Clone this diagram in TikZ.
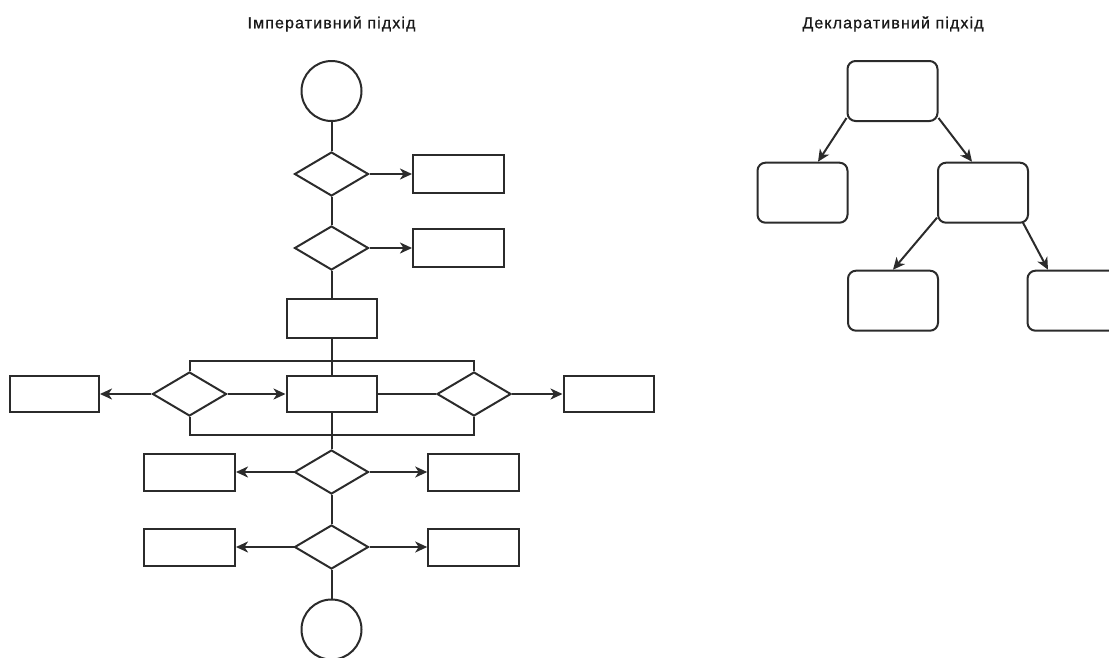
\documentclass[tikz,border=0pt]{standalone}
\usepackage{fontspec}
\setmainfont{Liberation Sans}
\newfontfamily\titlefont[LetterSpace=7, FakeBold=0.8]{Liberation Sans}
\usetikzlibrary{shapes.geometric,arrows.meta,calc}
\definecolor{ink}{HTML}{2B2B2B}
\begin{document}
\begin{tikzpicture}[x=1pt,y=-1pt,
  ttl/.style={font=\titlefont\fontsize{16}{19}\selectfont, text=black!90, inner sep=0},
  startend/.style={circle, draw=ink, line width=2pt, minimum size=60pt, inner sep=0},
  decision/.style={diamond, draw=ink, line width=2pt, minimum width=74pt, minimum height=44pt, inner sep=0},
  procbox/.style={rectangle, draw=ink, line width=2pt, minimum width=90pt, minimum height=37pt, inner sep=0},
  treebox/.style={rectangle, rounded corners=8pt, draw=ink, line width=2pt, minimum width=90pt, minimum height=60pt, inner sep=0},
  arr/.style={draw=ink, line width=2pt, -{Stealth[length=12pt,width=11pt,inset=3.5pt]}},
  ln/.style={draw=ink, line width=2pt}]
\path[use as bounding box] (0,0) rectangle (1109,657);

% titles
\node[ttl] (t1) at (331.5,24) {Імперативний підхід};
\node[ttl] (t2) at (893,24) {Декларативний підхід};

% imperative column
\node[startend] (c1) at (331.5,91) {};
\node[decision] (d1) at (331.5,174) {};
\node[procbox, minimum width=91pt, minimum height=38pt] (b1) at (458.5,174) {};
\node[decision] (d2) at (331.5,248) {};
\node[procbox, minimum width=91pt, minimum height=38pt] (b2) at (458.5,248) {};
\node[procbox, minimum height=39pt] (b3) at (331.5,318.5) {};

\node[decision] (dl) at (189.5,394) {};
\node[procbox, minimum width=89pt, minimum height=36pt] (bl) at (54.5,394) {};
\node[procbox, minimum height=36pt] (bm) at (331.5,394) {};
\node[decision] (dr) at (474,394) {};
\node[procbox, minimum height=36pt] (br) at (608.5,394) {};

\node[decision] (d3) at (331.5,472) {};
\node[procbox, minimum width=91pt] (b3l) at (189.5,472) {};
\node[procbox, minimum width=91pt] (b3r) at (473.7,472) {};
\node[decision] (d4) at (331.5,547) {};
\node[procbox, minimum width=91pt] (b4l) at (189.5,547) {};
\node[procbox, minimum width=91pt] (b4r) at (473.7,547) {};
\node[startend] (c2) at (331.5,629.5) {};

\coordinate (tbar) at (0,360.7);
\coordinate (bbar) at (0,435);

% vertical spine
\draw[ln] (c1) -- (d1);
\draw[ln] (d1) -- (d2);
\draw[ln] (d2) -- (b3);
\draw[ln] (b3) -- (bm);
\draw[ln] (bm) -- (d3);
\draw[ln] (d3) -- (d4);
\draw[ln] (d4) -- (c2);

% side branches
\draw[arr] (d1) -- (b1);
\draw[arr] (d2) -- (b2);
\draw[arr] (dl) -- (bl);
\draw[arr] (dl) -- (bm);
\draw[ln] (bm) -- (dr);
\draw[arr] (dr) -- (br);
\draw[arr] (d3) -- (b3l);
\draw[arr] (d3) -- (b3r);
\draw[arr] (d4) -- (b4l);
\draw[arr] (d4) -- (b4r);

% bars
\draw[ln] (dl.north) |- (tbar -| dr.north) -- (dr.north);
\draw[ln] (dl.south) |- (bbar -| dr.south) -- (dr.south);

% declarative tree
\node[treebox] (root) at (892.5,91) {};
\node[treebox] (lc) at (802.5,192.7) {};
\node[treebox] (rc) at (983,192.7) {};
\node[treebox] (gl) at (893,300.7) {};
\node[treebox] (gr) at (1072.5,300.7) {};

\draw[arr] ([yshift=4pt]root.south west) -- ([xshift=15.5pt]lc.north);
\draw[arr] ([yshift=4pt]root.south east) -- ([xshift=-11pt]rc.north);
\draw[arr] ([yshift=6pt]rc.south west) -- (gl.north);
\draw[arr] ([xshift=-6pt,yshift=1pt]rc.south east) -- ([xshift=-24.5pt]gr.north);
\end{tikzpicture}
\end{document}
